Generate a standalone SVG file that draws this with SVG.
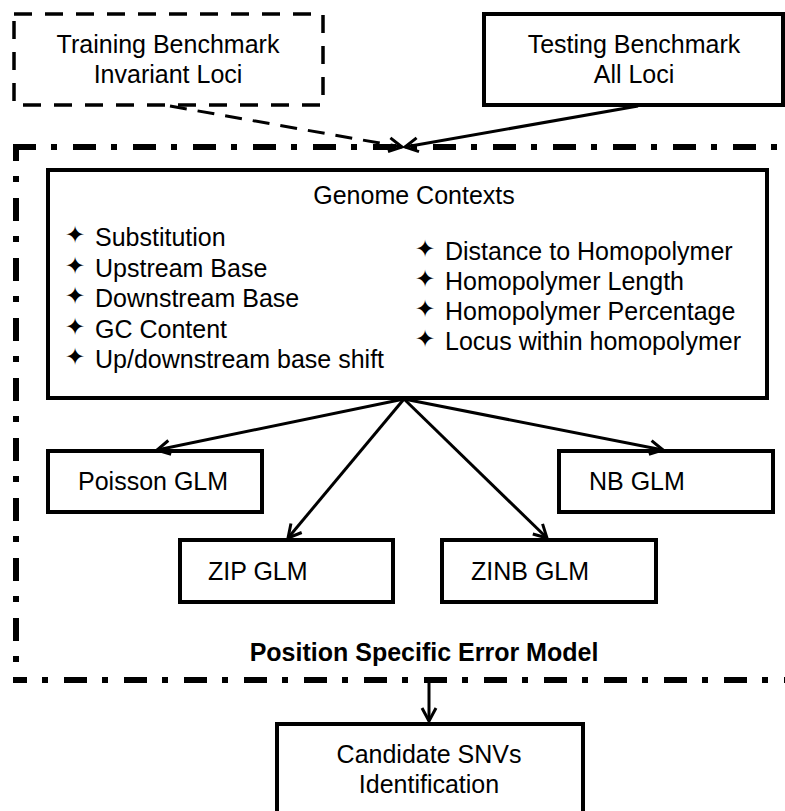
<svg xmlns="http://www.w3.org/2000/svg" width="785" height="811" viewBox="0 0 785 811">
<style>
  .box { fill: #fff; stroke: #000; stroke-width: 4; }
  .dbox { fill: #fff; stroke: #000; stroke-width: 3.5; stroke-dasharray: 18 13; }
  .t { font-family: "Liberation Sans", Arial, sans-serif; font-size: 25px; fill: #000; }
  .c { text-anchor: middle; }
  .b { font-weight: bold; }
  .star { font-family: "DejaVu Sans", sans-serif; font-size: 24px; text-anchor: middle; fill: #000; }
  .frame { fill: none; stroke: #000; stroke-width: 6; stroke-dasharray: 23 15 6 16; }
  .con { fill: none; stroke: #000; stroke-width: 3; }
</style>
<defs>
  <marker id="arr" markerUnits="userSpaceOnUse" markerWidth="30" markerHeight="30" refX="0" refY="0" orient="auto" overflow="visible">
    <path d="M-13,-7 L0,0 L-13,7" fill="none" stroke="#000" stroke-width="3"/>
  </marker>
</defs>

<g id="frame">
  <path class="frame" d="M13,147 H785"/>
  <path class="frame" d="M16,144 V683" style="stroke-dashoffset:6"/>
  <path class="frame" d="M13,680 H785" style="stroke-dashoffset:9"/>
</g>

<g id="training">
  <rect class="dbox" x="14" y="14" width="309" height="91"/>
  <text class="t c" x="168" y="53">Training Benchmark</text>
  <text class="t c" x="168" y="83">Invariant Loci</text>
</g>

<g id="testing">
  <rect class="box" x="484" y="14" width="299" height="91"/>
  <text class="t c" x="634" y="53">Testing Benchmark</text>
  <text class="t c" x="634" y="83">All Loci</text>
</g>

<g id="genome">
  <rect class="box" x="48" y="170" width="719" height="228"/>
  <text class="t c" x="414" y="204">Genome Contexts</text>
  <text class="star" x="75" y="243">✦</text>
  <text class="t" x="95" y="246">Substitution</text>
  <text class="star" x="75" y="273.5">✦</text>
  <text class="t" x="95" y="276.5">Upstream Base</text>
  <text class="star" x="75" y="304">✦</text>
  <text class="t" x="95" y="307">Downstream Base</text>
  <text class="star" x="75" y="334.5">✦</text>
  <text class="t" x="95" y="337.5">GC Content</text>
  <text class="star" x="75" y="365">✦</text>
  <text class="t" x="95" y="368">Up/downstream base shift</text>
  <text class="star" x="425" y="257">✦</text>
  <text class="t" x="445" y="260">Distance to Homopolymer</text>
  <text class="star" x="425" y="287">✦</text>
  <text class="t" x="445" y="290">Homopolymer Length</text>
  <text class="star" x="425" y="317">✦</text>
  <text class="t" x="445" y="320">Homopolymer Percentage</text>
  <text class="star" x="425" y="347">✦</text>
  <text class="t" x="445" y="350">Locus within homopolymer</text>
</g>

<g id="poisson">
  <rect class="box" x="48" y="451" width="214" height="61"/>
  <text class="t" x="78" y="490">Poisson GLM</text>
</g>
<g id="nb">
  <rect class="box" x="559" y="451" width="214" height="61"/>
  <text class="t" x="589" y="490">NB GLM</text>
</g>
<g id="zip">
  <rect class="box" x="180" y="540" width="213" height="62"/>
  <text class="t" x="208" y="580">ZIP GLM</text>
</g>
<g id="zinb">
  <rect class="box" x="442" y="540" width="214" height="62"/>
  <text class="t" x="471" y="580">ZINB GLM</text>
</g>

<g id="model-label">
  <text class="t c b" x="424" y="661">Position Specific Error Model</text>
</g>

<g id="candidate">
  <rect class="box" x="277" y="724" width="306" height="110"/>
  <text class="t c" x="429" y="763">Candidate SNVs</text>
  <text class="t c" x="429" y="793">Identification</text>
</g>

<g id="connectors">
  <path class="con" d="M170,106 L402,147" style="stroke-dasharray:17 11" marker-end="url(#arr)"/>
  <path class="con" d="M638,106 L405,147" marker-end="url(#arr)"/>
  <path class="con" d="M404,399 L157,450" marker-end="url(#arr)"/>
  <path class="con" d="M404,399 L288,538" marker-end="url(#arr)"/>
  <path class="con" d="M404,399 L663,450" marker-end="url(#arr)"/>
  <path class="con" d="M404,399 L547,538" marker-end="url(#arr)"/>
  <path class="con" d="M429,683 L429,721" marker-end="url(#arr)"/>
</g>
</svg>
